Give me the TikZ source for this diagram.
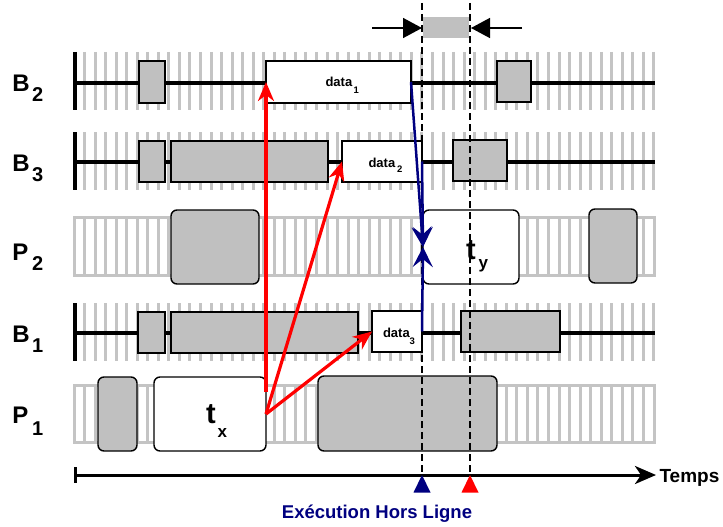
\documentclass[tikz,border=0pt]{standalone}
\usepackage{fontspec}
\setmainfont{Liberation Sans}
\usetikzlibrary{arrows.meta,fit}
\definecolor{bgray}{RGB}{192,192,192}
\definecolor{sgray}{RGB}{196,196,196}
\definecolor{navyc}{RGB}{0,0,128}
\newcommand\fsz[1]{\fontsize{#1}{#1}\selectfont}
\begin{document}
\begin{tikzpicture}[x=1pt,y=-1pt,
  stripeln/.style={draw=sgray,line width=3pt},
  axisln/.style={draw=black,line width=4pt},
  gbox/.style={draw=black,line width=1.4pt,fill=bgray,inner sep=0pt,outer sep=0pt},
  wbox/.style={gbox,fill=white},
  rbox/.style={gbox,rounded corners=6pt},
  rwbox/.style={wbox,rounded corners=6pt},
  lbl/.style={inner sep=0pt,outer sep=0pt,anchor=base west,font=\bfseries},
  redarr/.style={draw=red,line width=3.2pt,-{Stealth[length=19pt,width=16pt,inset=6pt]}},
  bluearr/.style={draw=navyc,line width=2.5pt,-{Stealth[length=20pt,width=20pt,inset=8pt]}},
  dashln/.style={draw=black,line width=1.2pt,dash pattern=on 7pt off 4pt},
  dimarr/.style={draw=black,line width=1.5pt,-{Triangle[length=19pt,width=20pt]}},
]
\useasboundingbox (0,0) rectangle (723,527);

% ---- stripes of the bus rows
\foreach \yt in {52,132,303}{
  \foreach \k in {1,...,55}{
    \draw[stripeln] ({74+10.545*\k},\yt) -- ++(0,58);
  }
}
% ---- processor bands
\foreach \yt/\yb in {217/275,385/442}{
  \draw[stripeln] (74,\yt) rectangle (654,\yb);
  \foreach \k in {1,...,54}{
    \draw[stripeln] ({74+10.545*\k},\yt) -- ({74+10.545*\k},\yb);
  }
}
% ---- bus axes
\foreach \ya/\yt in {83/52,162/132,333/303}{
  \draw[axisln] (75,\ya) -- (655,\ya);
  \draw[draw=black,line width=3.2pt] (75,\yt) -- (75,{\yt+58});
}

% ---- B2 row
\node[gbox, fit={(139,61) (165,103)}] (b2a) {};
\node[wbox, fit={(266,61) (411,103)}] (d1) {};
\node[gbox, fit={(497,61) (531,102)}] (b2b) {};
% ---- B3 row
\node[gbox, fit={(139,141) (165,182)}] (b3a) {};
\node[gbox, fit={(171,141) (328,182)}] (b3b) {};
\node[wbox, fit={(342,141) (422,182)}] (d2) {};
\node[gbox, fit={(453,140) (507,181)}] (b3c) {};
% ---- P2 row
\node[rbox, fit={(171,210) (259,284)}] (p2a) {};
\node[rwbox, fit={(423,210) (519,284)}] (ty) {};
\node[rbox, fit={(589,209) (637,283)}] (p2b) {};
% ---- B1 row
\node[gbox, fit={(138,312) (165,353)}] (b1a) {};
\node[gbox, fit={(171,312) (358,353)}] (b1b) {};
\node[wbox, fit={(372,311) (422,352)}] (d3) {};
\node[gbox, fit={(461,311) (560,352)}] (b1c) {};
% ---- P1 row
\node[rbox, fit={(98,377) (137,451)}] (p1a) {};
\node[rwbox, fit={(154,377) (266,451)}] (tx) {};
\node[rbox, fit={(318,376) (497,451)}] (p1b) {};

% ---- texts in boxes
\node[lbl,font=\bfseries\fsz{13}] (d1t) at (325.5,87) {data};
\node[lbl,font=\bfseries\fsz{9.5}] (d1s) at (353.5,93.5) {1};
\node[lbl,font=\bfseries\fsz{13}] (d2t) at (368.5,167) {data};
\node[lbl,font=\bfseries\fsz{9.5}] (d2s) at (397,172.5) {2};
\node[lbl,font=\bfseries\fsz{13}] (d3t) at (383,337) {data};
\node[lbl,font=\bfseries\fsz{9.5}] (d3s) at (409.5,344) {3};
\node[lbl,font=\bfseries\fsz{29}] (txt) at (206,423) {t};
\node[lbl,font=\bfseries\fsz{17}] (txs) at (217.5,437) {x};
\node[lbl,font=\bfseries\fsz{29}] (tyt) at (466,259) {t};
\node[lbl,font=\bfseries\fsz{17}] (tys) at (478.5,268) {y};

% ---- row labels
\node[lbl,font=\bfseries\fsz{24}] (lb2) at (12.5,92) {B};
\node[lbl,font=\bfseries\fsz{20}] (lb2s) at (32,102) {2};
\node[lbl,font=\bfseries\fsz{24}] (lb3) at (12.5,171) {B};
\node[lbl,font=\bfseries\fsz{20}] (lb3s) at (32,181) {3};
\node[lbl,font=\bfseries\fsz{24}] (lp2) at (12.5,260) {P};
\node[lbl,font=\bfseries\fsz{20}] (lp2s) at (32,270) {2};
\node[lbl,font=\bfseries\fsz{24}] (lb1) at (12.5,342) {B};
\node[lbl,font=\bfseries\fsz{20}] (lb1s) at (32,352) {1};
\node[lbl,font=\bfseries\fsz{24}] (lp1) at (12.5,423) {P};
\node[lbl,font=\bfseries\fsz{20}] (lp1s) at (32,435) {1};

% ---- time axis
\coordinate (t0) at (75,475);
\coordinate (t1) at (656,475);
\draw[draw=black,line width=3pt,-{Stealth[length=21pt,width=18pt,inset=6pt]}] (t0) -- (t1);
\draw[draw=black,line width=3pt] (75,467) -- (75,483);
\node[lbl,font=\bfseries\fsz{19}] (temps) at (659.5,482.5) {Temps};

% ---- dashed time marks
\coordinate (da) at (422,3);
\coordinate (db) at (470,3);
\coordinate (dae) at (422,475);
\coordinate (dbe) at (470,475);
\draw[dashln] (da) -- (dae);
\draw[dashln] (db) -- (dbe);

% ---- top interval
\fill[bgray] (423,17) rectangle (469,38);
\coordinate (la) at (372,28);
\coordinate (ra) at (522,28);
\coordinate (lae) at (422,28);
\coordinate (rae) at (471,28);
\draw[dimarr] (la) -- (lae);
\draw[dimarr] (ra) -- (rae);

% ---- bottom markers
\fill[navyc] (422,475) -- (430.5,492.5) -- (413.5,492.5) -- cycle;
\fill[red] (470,475) -- (478.5,492.5) -- (461.5,492.5) -- cycle;
\node[inner sep=0pt,anchor=base,font=\bfseries\fsz{18.5},text=navyc] (exec) at (377,518) {Exécution Hors Ligne};

% ---- red arrows
\draw[redarr] ([yshift=22pt]tx.east) -- (d1.west);
\draw[redarr] (tx.east) -- (d2.west);
\draw[redarr] (tx.east) -- (d3.west);

% ---- blue arrows
\draw[bluearr] (d1.east) -- (ty.west);
\draw[bluearr] (d2.east) -- (ty.west);
\draw[bluearr] (d3.east) -- (ty.west);
\end{tikzpicture}
\end{document}
